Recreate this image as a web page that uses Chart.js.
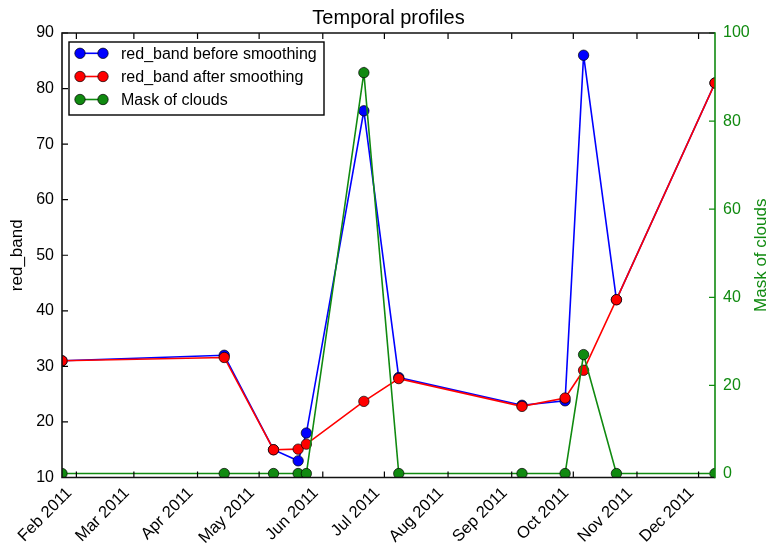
<!DOCTYPE html>
<html>
<head>
<meta charset="utf-8">
<script src="https://cdn.jsdelivr.net/npm/chart.js@4.4.0/dist/chart.umd.min.js"></script>
<style>
html,body{margin:0;padding:0;background:#ffffff;}
#wrap{width:768px;height:545px;position:relative;}
</style>
</head>
<body>
<div id="wrap"><canvas id="c" width="768" height="545"></canvas></div>
<script>
// ---- data ----
const dates = ['2011-01-25','2011-04-14','2011-05-08','2011-05-20','2011-05-24','2011-06-21',
               '2011-07-08','2011-09-06','2011-09-27','2011-10-06','2011-10-22','2011-12-09'];
const redBefore = [31, 32, 15, 13, 18, 76, 28, 23, 23.8, 86, 42, 81];
const redAfter  = [31, 31.6, 15, 15.1, 16, 23.7, 27.8, 22.8, 24.3, 29.3, 42, 81];
const cloudMask = [0, 0, 0, 0, 0, 91, 0, 0, 0, 27, 0, 0];
const monthTicks = ['2011-02-01','2011-03-01','2011-04-01','2011-05-01','2011-06-01','2011-07-01',
                    '2011-08-01','2011-09-01','2011-10-01','2011-11-01','2011-12-01'];
const monthLabels = ['Feb 2011','Mar 2011','Apr 2011','May 2011','Jun 2011','Jul 2011',
                     'Aug 2011','Sep 2011','Oct 2011','Nov 2011','Dec 2011'];
const xRange = ['2011-01-25','2011-12-09'];
const leftTicks = [10, 20, 30, 40, 50, 60, 70, 80, 90];
const rightTicks = [0, 20, 40, 60, 80, 100];
const seriesNames = ['red_band before smoothing','red_band after smoothing','Mask of clouds'];
const titleText = 'Temporal profiles';
const leftAxisTitle = 'red_band';
const rightAxisTitle = 'Mask of clouds';

const FONT = "'Liberation Sans', Arial, Helvetica, sans-serif";
const BLUE = '#0000ff', RED = '#ff0000', GREEN = '#108a10';
const LW = 1.6;

function day(s){ return Date.parse(s + 'T00:00:00Z') / 86400000; }
function pts(vals){ return dates.map((d,i)=>({x: day(d), y: vals[i]})); }

function ds(label, vals, color, axis, order){
  return {
    label: label, data: pts(vals), yAxisID: axis, order: order,
    borderColor: color, backgroundColor: color, borderWidth: LW,
    pointRadius: 5.2, pointHoverRadius: 5.2, pointBorderColor: '#000', pointBorderWidth: 0.7,
    pointBackgroundColor: color, tension: 0, clip: 0
  };
}

const deco = {
  id: 'deco',
  afterDatasetsDraw(chart){
    const {ctx, chartArea: a, scales} = chart;
    ctx.save();
    // inward tick marks
    ctx.lineWidth = 1.2;
    ctx.strokeStyle = '#000';
    ctx.beginPath();
    leftTicks.forEach(v => {
      const y = scales.y.getPixelForValue(v);
      ctx.moveTo(a.left, y); ctx.lineTo(a.left + 6, y);
    });
    monthTicks.forEach(s => {
      const x = scales.x.getPixelForValue(day(s));
      ctx.moveTo(x, a.bottom); ctx.lineTo(x, a.bottom - 6);
      ctx.moveTo(x, a.top); ctx.lineTo(x, a.top + 6);
    });
    ctx.stroke();
    ctx.strokeStyle = GREEN;
    ctx.beginPath();
    rightTicks.forEach(v => {
      const y = scales.y2.getPixelForValue(v);
      ctx.moveTo(a.right, y); ctx.lineTo(a.right - 6, y);
    });
    ctx.stroke();
    // spines
    ctx.lineWidth = 1.6;
    ctx.strokeStyle = '#111';
    ctx.beginPath();
    ctx.moveTo(a.right, a.top); ctx.lineTo(a.left, a.top);
    ctx.lineTo(a.left, a.bottom); ctx.lineTo(a.right, a.bottom);
    ctx.stroke();
    ctx.strokeStyle = GREEN;
    ctx.beginPath();
    ctx.moveTo(a.right, a.top - 0.8); ctx.lineTo(a.right, a.bottom + 0.8);
    ctx.stroke();
    ctx.restore();
  },
  afterDraw(chart){
    const {ctx, chartArea: a} = chart;
    ctx.save();
    // title
    ctx.fillStyle = '#000';
    ctx.font = '20px ' + FONT;
    ctx.textAlign = 'center';
    ctx.textBaseline = 'middle';
    ctx.fillText(titleText, (a.left + a.right) / 2, 18);
    // axis titles
    ctx.font = '17px ' + FONT;
    ctx.save();
    ctx.translate(17, (a.top + a.bottom) / 2);
    ctx.rotate(-Math.PI / 2);
    ctx.fillStyle = '#000';
    ctx.fillText(leftAxisTitle, 0, 0);
    ctx.restore();
    ctx.save();
    ctx.translate(761, (a.top + a.bottom) / 2);
    ctx.rotate(-Math.PI / 2);
    ctx.fillStyle = GREEN;
    ctx.fillText(rightAxisTitle, 0, 0);
    ctx.restore();
    // legend
    const lx = 69, ly = 42, lw = 255, lh = 73;
    ctx.fillStyle = '#fff';
    ctx.fillRect(lx, ly, lw, lh);
    ctx.lineWidth = 1.4;
    ctx.strokeStyle = '#000';
    ctx.strokeRect(lx, ly, lw, lh);
    const cols = [BLUE, RED, GREEN];
    const rows = [53.3, 76.5, 99.5];
    ctx.font = '16px ' + FONT;
    ctx.textAlign = 'left';
    ctx.textBaseline = 'middle';
    seriesNames.forEach((name, i) => {
      const y = rows[i];
      ctx.strokeStyle = cols[i];
      ctx.lineWidth = LW;
      ctx.beginPath(); ctx.moveTo(80, y); ctx.lineTo(103, y); ctx.stroke();
      [80, 103].forEach(x => {
        ctx.beginPath(); ctx.arc(x, y, 5.2, 0, Math.PI * 2);
        ctx.fillStyle = cols[i]; ctx.fill();
        ctx.lineWidth = 0.7; ctx.strokeStyle = '#000'; ctx.stroke();
      });
      ctx.fillStyle = '#000';
      ctx.fillText(name, 121, y + 1);
    });
    ctx.restore();
  }
};

Chart.defaults.font.family = FONT;
Chart.defaults.font.size = 16;
Chart.defaults.color = '#000';

new Chart(document.getElementById('c'), {
  type: 'line',
  data: {
    datasets: [
      ds(seriesNames[2], cloudMask, GREEN, 'y2', 0),
      ds(seriesNames[1], redAfter, RED, 'y', 1),
      ds(seriesNames[0], redBefore, BLUE, 'y', 2)
    ]
  },
  options: {
    responsive: false,
    animation: false,
    events: [],
    layout: { padding: { top: 33, left: 0, right: 0, bottom: 0 } },
    plugins: { legend: { display: false }, title: { display: false }, tooltip: { enabled: false } },
    scales: {
      x: {
        type: 'linear', position: 'bottom',
        min: day(xRange[0]), max: day(xRange[1]),
        grid: { display: false, drawTicks: false },
        border: { display: false },
        afterBuildTicks(scale){ scale.ticks = monthTicks.map(s => ({ value: day(s) })); },
        afterFit(scale){ scale.height = 67.5; },
        ticks: {
          autoSkip: false, maxRotation: 45, minRotation: 45, padding: 6, labelOffset: -7,
          font: { size: 16.5 }, color: '#000',
          callback(value){ const i = monthTicks.findIndex(s => day(s) === value); return i >= 0 ? monthLabels[i] : ''; }
        }
      },
      y: {
        type: 'linear', position: 'left', min: 10, max: 90,
        grid: { display: false, drawTicks: false },
        border: { display: false },
        afterBuildTicks(scale){ scale.ticks = leftTicks.map(v => ({ value: v })); },
        afterFit(scale){ scale.width = 62; },
        ticks: { padding: 8, font: { size: 16 }, color: '#000' }
      },
      y2: {
        type: 'linear', position: 'right', min: -0.9, max: 100,
        grid: { display: false, drawTicks: false },
        border: { display: false },
        afterBuildTicks(scale){ scale.ticks = rightTicks.map(v => ({ value: v })); },
        afterFit(scale){ scale.width = 53; },
        ticks: { padding: 8, font: { size: 16 }, color: GREEN }
      }
    }
  },
  plugins: [deco]
});
</script>
</body>
</html>
